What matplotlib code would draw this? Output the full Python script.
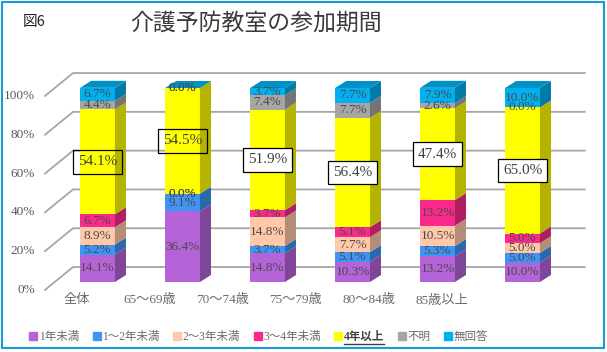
import numpy as np
import matplotlib
matplotlib.use("Agg")
import matplotlib.pyplot as plt
from matplotlib.lines import Line2D
from matplotlib.patches import Rectangle
import matplotlib.colors as mcolors

plt.rcParams['font.family'] = ['Liberation Serif', 'Noto Sans CJK JP', 'DejaVu Sans']

categories = ["全体", "65～69歳", "70～74歳", "75～79歳", "80～84歳", "85歳以上"]
series_names = ["1年未満", "1～2年未満", "2～3年未満", "3～4年未満", "4年以上", "不明", "無回答"]
under1 = [14.1, 36.4, 14.8, 10.3, 13.2, 10.0]
y1to2 = [5.2, 9.1, 3.7, 5.1, 5.3, 5.0]
y2to3 = [8.9, 0.0, 14.8, 7.7, 10.5, 5.0]
y3to4 = [6.7, 0.0, 3.7, 5.1, 13.2, 5.0]
over4 = [54.1, 54.5, 51.9, 56.4, 47.4, 65.0]
unknown = [4.4, 0.0, 7.4, 7.7, 2.6, 0.0]
no_answer = [6.7, 0.0, 3.7, 7.7, 7.9, 10.0]
yticks = [0, 20, 40, 60, 80, 100]

colors = ["#b564d8", "#3f95f5", "#ffc9a9", "#fa2a8c", "#ffff00", "#a6a6a6", "#00b0f0"]
box_faces = ["none", "none", "white", "white", "white", "white"]

def shade(c, f):
    r, g, b = mcolors.to_rgb(c)
    return (r * f, g * f, b * f)

fig = plt.figure(figsize=(6.07, 3.52), dpi=100)
ax = fig.add_axes([46.5 / 607, 70 / 352, 552.5 / 607, 194 / 352])
ax.set_xlim(-0.6, 5.9)
ax.set_ylim(0, 100)
ax.axis("off")

# 3d offsets in data units (bar depth, floor front, back wall)
ddx, ddy = 0.13, 3.6
fdx, fdy = -0.118, -4.1
bdx, bdy = 0.212, 7.7
xL, xR = -0.5, 5.52

for v in yticks:
    ax.plot([xL + fdx, xL + bdx, xR + bdx], [v + fdy, v + bdy, v + bdy],
            color="#a6a6a6", lw=1.3, clip_on=False, zorder=1)
    ax.text(xL + fdx - 0.12, v + fdy, f"{v}%", ha="right", va="center",
            fontsize=9.5, color="#595959", clip_on=False)

data = [under1, y1to2, y2to3, y3to4, over4, unknown, no_answer]
x = np.arange(len(categories))
w = 0.41
bottom = np.zeros(len(categories))
for si, vals in enumerate(data):
    vals = np.array(vals)
    ax.bar(x, vals, bottom=bottom, width=w, color=colors[si], edgecolor="none", zorder=3)
    for i in range(len(x)):
        b, h = bottom[i], vals[i]
        xr = x[i] + w / 2
        ax.fill([xr, xr + ddx, xr + ddx, xr], [b, b + ddy, b + h + ddy, b + h],
                color=shade(colors[si], 0.7), lw=0, zorder=3, clip_on=False)
        if si == 4:
            ax.text(x[i], b + h / 2, f"{h:.1f}%", ha="center", va="center", fontsize=11,
                    color="#404040", zorder=5,
                    bbox=dict(boxstyle="square,pad=0.35", fc=box_faces[i], ec="black", lw=0.9))
        else:
            ax.text(x[i], b + h / 2, f"{h:.1f}%", ha="center", va="center", fontsize=9.5,
                    color="#4a4a4a", zorder=5, clip_on=False)
    bottom = bottom + vals

for i in range(len(x)):
    t = bottom[i]
    ax.fill([x[i] - w / 2, x[i] + w / 2, x[i] + w / 2 + ddx, x[i] - w / 2 + ddx],
            [t, t, t + ddy, t + ddy], color=shade(colors[-1], 0.82), lw=0,
            zorder=3, clip_on=False)

# category labels sit on the floor front (perspective spacing)
ax_lab = fig.add_axes([40.5 / 607, 70 / 352, 438 / 607, 0.01])
ax_lab.set_xlim(-0.5, 5.5)
ax_lab.set_xticks(x)
ax_lab.set_xticklabels(categories, fontsize=9.5, color="#6a6a6a")
ax_lab.tick_params(length=0, pad=9)
ax_lab.set_yticks([])
for s in ax_lab.spines.values():
    s.set_visible(False)
ax_lab.patch.set_visible(False)

handles = [Line2D([], [], marker="s", ls="none", color=c, markersize=5.5) for c in colors]
leg = fig.legend(handles, series_names, loc="center", bbox_to_anchor=(258 / 607, 1 - 337 / 352),
                 ncol=7, frameon=False, fontsize=8.3, handletextpad=0.05, columnspacing=1.05,
                 handlelength=0.9, borderpad=0)
for t in leg.get_texts():
    t.set_color("#6a6a6a")
leg.get_texts()[4].set_fontweight("bold")
leg.get_texts()[4].set_color("#404040")

fig.text(256 / 607, 1 - 23 / 352, "介護予防教室の参加期間", ha="center", va="center",
         fontsize=16.5, color="#3a3a3a", family=["Noto Sans CJK JP"])
fig.text(23 / 607, 1 - 22 / 352, "図6", ha="left", va="center", fontsize=10.5,
         color="#222222", family=["Noto Sans CJK JP"])

fig.patches.append(Rectangle((2 / 607, 4 / 352), 602 / 607, 346 / 352, transform=fig.transFigure,
                             fill=False, ec="#1a9bd7", lw=1.5))

# underline for the highlighted legend entry
fig.canvas.draw()
bb = leg.get_texts()[4].get_window_extent().transformed(fig.transFigure.inverted())
fig.add_artist(Line2D([bb.x0, bb.x1], [bb.y0 - 0.004, bb.y0 - 0.004], color="#404040", lw=1,
                      transform=fig.transFigure))

fig.savefig("out.png", dpi=100)
